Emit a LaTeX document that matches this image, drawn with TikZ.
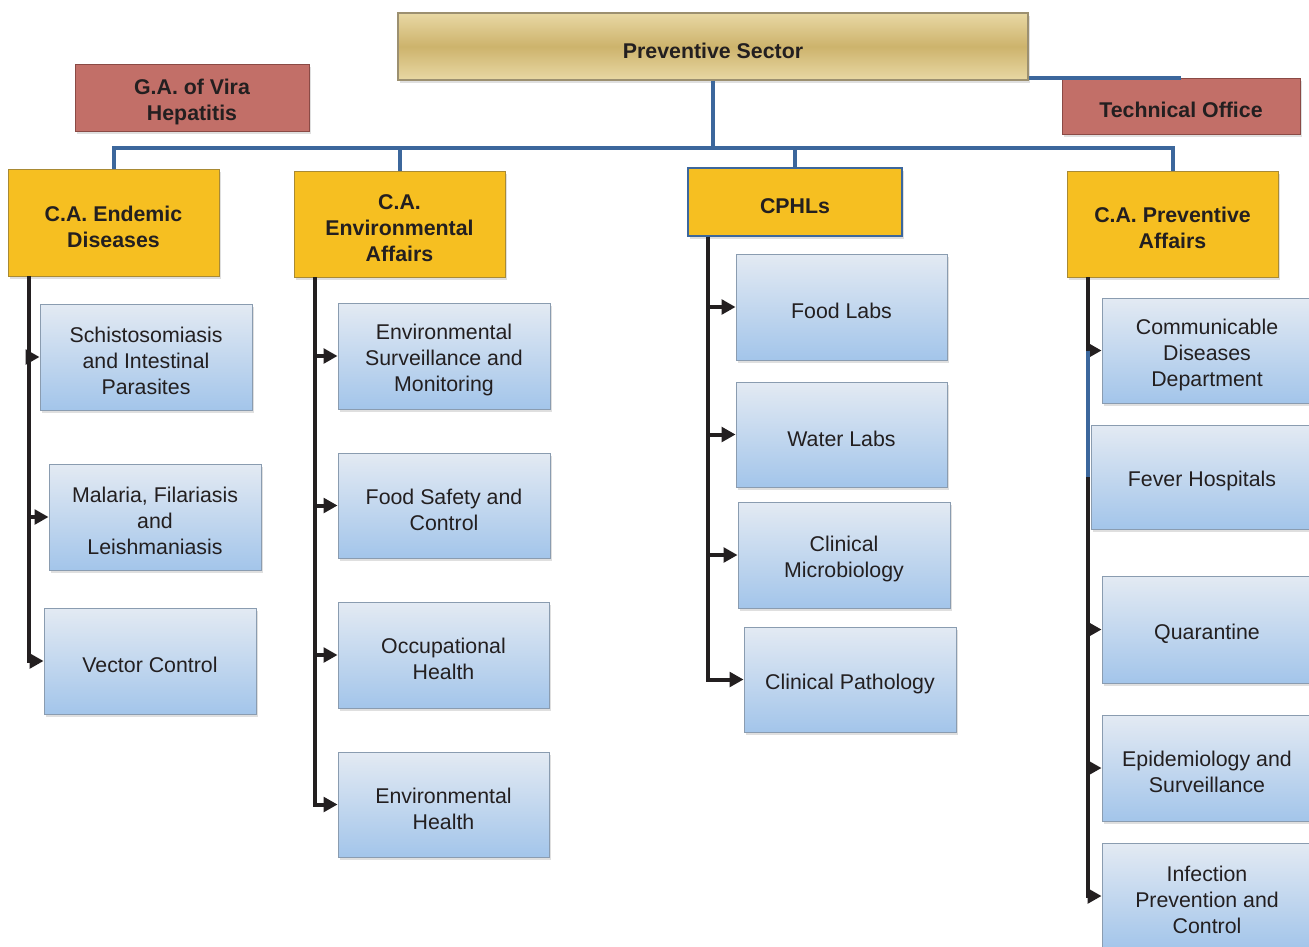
\documentclass[tikz,border=0pt]{standalone}
\usepackage{fontspec}
\setmainfont{Liberation Sans}
\usetikzlibrary{arrows.meta,shadows}
\definecolor{goldA}{HTML}{E8D8A4}
\definecolor{goldB}{HTML}{CDB36C}
\definecolor{goldLine}{HTML}{9C9070}
\definecolor{rose}{HTML}{C26F68}
\definecolor{roseLine}{HTML}{8A4A45}
\definecolor{yel}{HTML}{F6BF21}
\definecolor{yelLine}{HTML}{A98A34}
\definecolor{lbTop}{HTML}{E3EAF3}
\definecolor{lbBot}{HTML}{A3C5EA}
\definecolor{lbLine}{HTML}{8A9CB0}
\definecolor{busblue}{HTML}{3C679C}
\definecolor{txt}{HTML}{231F20}
\tikzset{
  sz/.style 2 args={minimum width=#1*0.75pt, minimum height=#2*0.75pt},
  lbl/.style={align=center, inner sep=0pt, text=txt, yshift=-3pt, font=\fontsize{16}{19.5}\selectfont},
  blbl/.style={lbl, font=\bfseries\fontsize{16}{19.5}\selectfont},
  txt/.style={label={[lbl]center:{#1}}},
  btxt/.style={label={[blbl]center:{#1}}},
  basebox/.style={rectangle, inner sep=0pt,
    drop shadow={opacity=0.25, shadow xshift=1.6pt, shadow yshift=-2pt}},
  topbox/.style={basebox, draw=goldLine, line width=0.8pt,
    top color=goldA, bottom color=goldA, middle color=goldB},
  redbox/.style={basebox, draw=roseLine, line width=0.6pt, fill=rose},
  headbox/.style={basebox, draw=yelLine, line width=0.6pt, fill=yel},
  subbox/.style={basebox, draw=lbLine, line width=0.7pt, top color=lbTop, bottom color=lbBot},
  busline/.style={draw=busblue, line width=3pt},
  arr/.style={draw=txt, line width=3pt, -{Triangle[length=10.5pt,width=11pt]}},
}
\begin{document}
\begin{tikzpicture}[x=0.75pt,y=-0.75pt]
\useasboundingbox (0,0) rectangle (1309,946);
\clip (0,0) rectangle (1309,946);
\fill[white] (0,0) rectangle (1309,946);

% top level
\node[topbox, sz={630}{67}, btxt={Preventive Sector}] (ps) at (713,46.5) {};
\node[redbox, sz={234}{67}, btxt={G.A. of Vira\\Hepatitis}] (hep) at (192,97.5) {};
\node[redbox, sz={238}{56}, btxt={Technical Office}] (tech) at (1181,106) {};

% heads
\node[headbox, sz={211}{107}, btxt={C.A. Endemic\\Diseases}] (endm) at (113.5,222.5) {};
\node[headbox, sz={211}{106}, btxt={C.A.\\Environmental\\Affairs}] (env) at (399.5,224) {};
\node[headbox, sz={214}{68}, draw=busblue, line width=1.2pt, btxt={CPHLs}] (cphl) at (795,202) {};
\node[headbox, sz={211}{106}, btxt={C.A. Preventive\\Affairs}] (pa) at (1172.5,224) {};

% blue connectors
\coordinate (bus) at (713,148);
\draw[busline] (ps.south) -- (bus);
\draw[busline] (bus) -| (endm.north);
\draw[busline] (bus) -| (env.north);
\draw[busline] (bus) -| (cphl.north);
\draw[busline] (bus) -| (pa.north);
\draw[busline] (ps.south east |- tech.north) -- (tech.north);

% column 1
\node[subbox, sz={212}{106}, txt={Schistosomiasis\\and Intestinal\\Parasites}] (schisto) at (146,357) {};
\node[subbox, sz={212}{106}, txt={Malaria, Filariasis\\and\\Leishmaniasis}] (malaria) at (155,517) {};
\node[subbox, sz={212}{106}, txt={Vector Control}] (vector) at (150,661) {};

% column 2
\node[subbox, sz={212}{106}, txt={Environmental\\Surveillance and\\Monitoring}] (envsurv) at (444,356) {};
\node[subbox, sz={212}{105}, txt={Food Safety and\\Control}] (food) at (444,505.5) {};
\node[subbox, sz={211}{106}, txt={Occupational\\Health}] (occ) at (443.5,655) {};
\node[subbox, sz={211}{105}, txt={Environmental\\Health}] (envh) at (443.5,804.5) {};

% column 3
\node[subbox, sz={211}{106}, txt={Food Labs}] (foodlabs) at (841.5,307) {};
\node[subbox, sz={211}{105}, txt={Water Labs}] (water) at (841.5,434.5) {};
\node[subbox, sz={212}{106}, txt={Clinical\\Microbiology}] (micro) at (844,555) {};
\node[subbox, sz={212}{105}, txt={Clinical Pathology}] (path) at (850,679.5) {};

% column 4
\node[subbox, sz={210}{105}, txt={Communicable\\Diseases\\Department}] (comm) at (1207,350.5) {};
\node[subbox, sz={222}{104}, txt={Fever Hospitals}] (fever) at (1202,477) {};
\node[subbox, sz={210}{107}, txt={Quarantine}] (quar) at (1207,629.5) {};
\node[subbox, sz={210}{106}, txt={Epidemiology and\\Surveillance}] (epi) at (1207,768) {};
\node[subbox, sz={210}{106}, txt={Infection\\Prevention and\\Control}] (inf) at (1207,896) {};

% black arrows
\foreach \h/\b in {endm/schisto, endm/malaria, endm/vector,
                   env/envsurv, env/food, env/occ, env/envh,
                   cphl/foodlabs, cphl/water, cphl/micro, cphl/path,
                   pa/comm, pa/quar, pa/epi, pa/inf}{
  \draw[arr] ([xshift=21*0.75pt]\h.south west) |- (\b.west);
}
\draw[busline] ([xshift=-14*0.75pt]comm.west) -- ([xshift=-3*0.75pt]fever.west);
\end{tikzpicture}
\end{document}
